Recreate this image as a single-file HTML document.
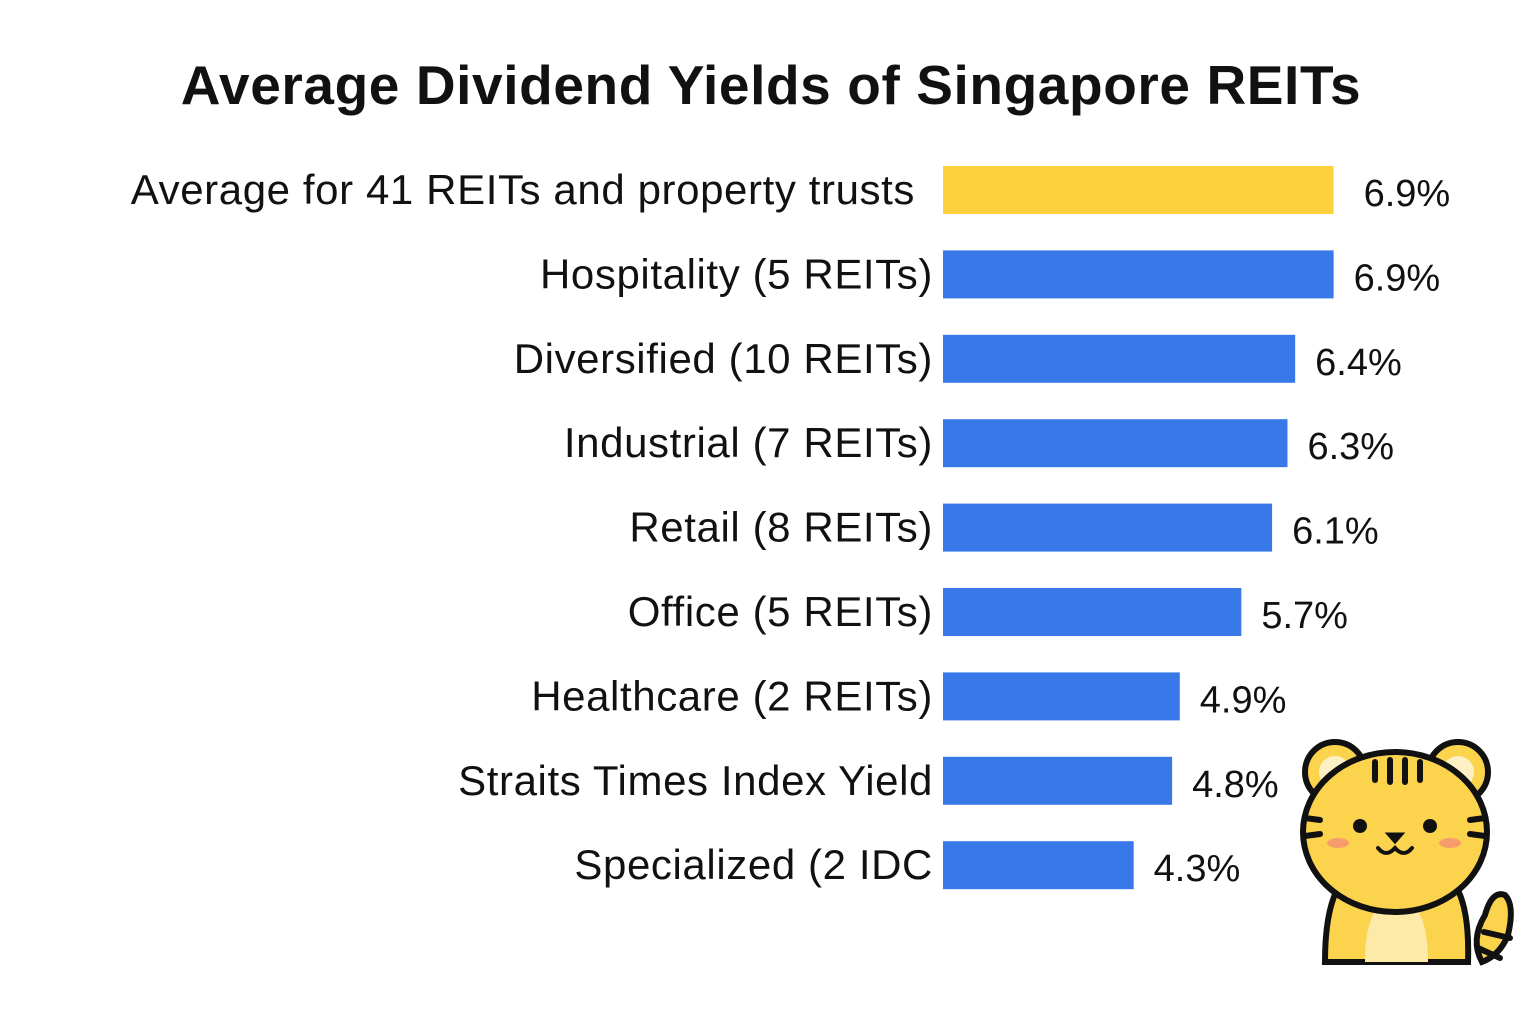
<!DOCTYPE html>
<html><head><meta charset="utf-8">
<style>
body{margin:0;background:#fff;}
svg{display:block;}
text{font-family:"Liberation Sans","DejaVu Sans",sans-serif;}
</style></head><body>
<svg id="chart" width="1536" height="1024" viewBox="0 0 1536 1024">
<rect width="1536" height="1024" fill="#fff"/>
<text x="771" y="104" text-anchor="middle" font-size="55" font-weight="bold" letter-spacing="0.6" fill="#111">Average Dividend Yields of Singapore REITs</text>
<g id="bars"></g>
<g stroke="#111" stroke-width="6" stroke-linecap="round">
  <path d="M1482 962 Q1470 940 1485 915 Q1492 890 1505 895 Q1515 905 1508 935 Q1500 955 1482 962 Z" fill="#fcd34d"/>
  <line x1="1484" y1="932" x2="1510" y2="938" />
  <line x1="1478" y1="948" x2="1500" y2="958" />
  <path d="M1325 962 Q1325 900 1345 878 L1450 878 Q1470 900 1468 962 Z" fill="#fcd34d"/>
  <path d="M1365 962 Q1365 900 1397 898 Q1428 900 1428 962 Z" fill="#fde9a8" stroke="none"/>
  <circle cx="1335" cy="772" r="30" fill="#fcd34d"/>
  <circle cx="1458" cy="772" r="30" fill="#fcd34d"/>
  <circle cx="1335" cy="772" r="16" fill="#fdf0c4" stroke="none"/>
  <circle cx="1458" cy="772" r="16" fill="#fdf0c4" stroke="none"/>
  <ellipse cx="1395" cy="832" rx="92" ry="80" fill="#fcd34d"/>
  <line x1="1375" y1="762" x2="1375" y2="780"/>
  <line x1="1390" y1="760" x2="1390" y2="782"/>
  <line x1="1405" y1="760" x2="1405" y2="782"/>
  <line x1="1420" y1="762" x2="1420" y2="780"/>
  <line x1="1305" y1="818" x2="1320" y2="820"/>
  <line x1="1305" y1="836" x2="1320" y2="834"/>
  <line x1="1485" y1="818" x2="1470" y2="820"/>
  <line x1="1485" y1="836" x2="1470" y2="834"/>
  <circle cx="1360" cy="826" r="7" fill="#111" stroke="none"/>
  <circle cx="1430" cy="826" r="7" fill="#111" stroke="none"/>
  <ellipse cx="1338" cy="843" rx="11" ry="5" fill="#f59e6b" stroke="none"/>
  <ellipse cx="1450" cy="843" rx="11" ry="5" fill="#f59e6b" stroke="none"/>
  <path d="M1388 834 L1402 834 L1395 842 Z" fill="#111" stroke-width="3"/>
  <path d="M1378 848 Q1386 858 1395 848 Q1404 858 1412 848" fill="none" stroke-width="4"/>
</g>
</svg>
<script>
const categories=["Average for 41 REITs and property trusts","Hospitality (5 REITs)","Diversified (10 REITs)","Industrial (7 REITs)","Retail (8 REITs)","Office (5 REITs)","Healthcare (2 REITs)","Straits Times Index Yield","Specialized (2 IDC"];
const yields=[6.9,6.9,6.4,6.3,6.1,5.7,4.9,4.8,4.3];
const valueLabels=["6.9%","6.9%","6.4%","6.3%","6.1%","5.7%","4.9%","4.8%","4.3%"];
const g=document.getElementById('bars');
const NS='http://www.w3.org/2000/svg';
const x0=943;
function xScale(v){return 803+76.9*v;}
function yScale(i){return 190+84.4*i;}
const bh=48;
categories.forEach((c,i)=>{
  const yc=yScale(i);
  const r=document.createElementNS(NS,'rect');
  r.setAttribute('x',x0);r.setAttribute('y',yc-bh/2);
  r.setAttribute('width',xScale(yields[i])-x0);r.setAttribute('height',bh);
  r.setAttribute('fill',i===0?'#fdd040':'#3878e8');
  
  
  g.appendChild(r);
  const t=document.createElementNS(NS,'text');
  t.setAttribute('x',i===0?915:933);t.setAttribute('y',yc+14);
  t.setAttribute('text-anchor','end');t.setAttribute('font-size','42');t.setAttribute('letter-spacing','0.6');t.setAttribute('fill','#111');
  t.textContent=c;
  
  
  g.appendChild(t);
  const v=document.createElementNS(NS,'text');
  v.setAttribute('x',xScale(yields[i])+(i===0?30:20));v.setAttribute('y',yc+16);
  v.setAttribute('font-size','38');v.setAttribute('fill','#111');
  v.textContent=valueLabels[i];
  
  
  g.appendChild(v);
});
</script>
</body></html>
